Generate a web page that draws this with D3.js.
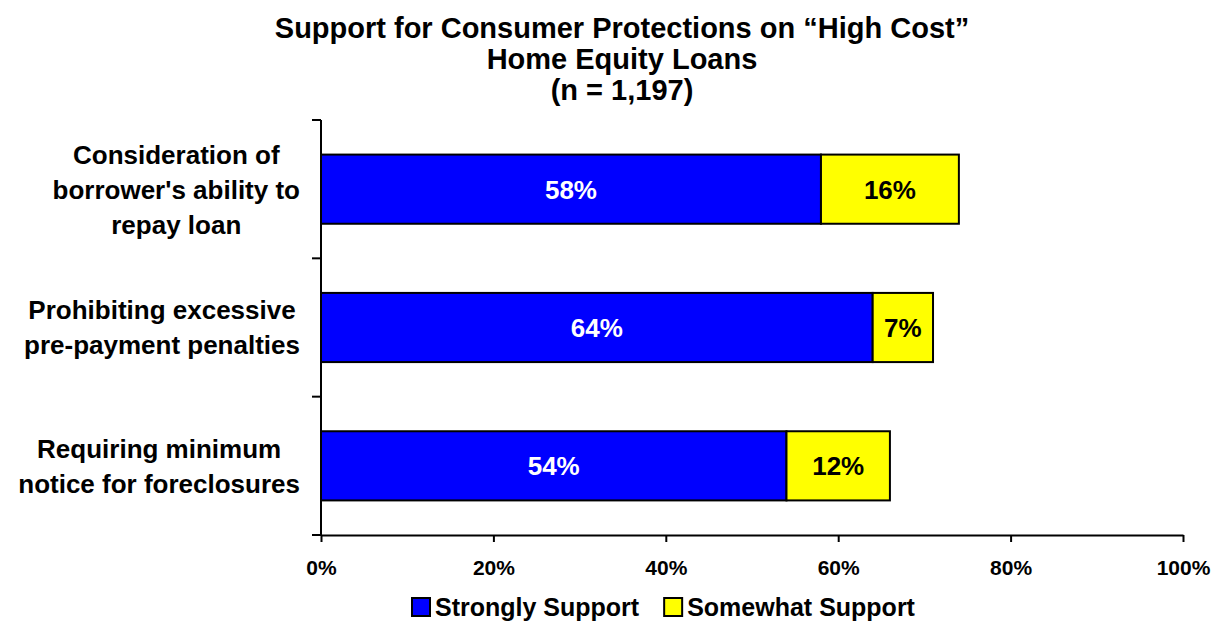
<!DOCTYPE html>
<html>
<head>
<meta charset="utf-8">
<script src="https://cdn.jsdelivr.net/npm/d3@7/dist/d3.min.js"></script>
<style>
  body { margin: 0; background: #fff; }
  text { font-family: "Liberation Sans", Arial, sans-serif; font-weight: bold; }
</style>
</head>
<body>
<div id="chart"></div>
<script>
// chart data
const categories = [
  ["Consideration of", "borrower's ability to", "repay loan"],
  ["Prohibiting excessive", "pre-payment penalties"],
  ["Requiring minimum", "notice for foreclosures"]
]
const strongly = [58, 64, 54]
const somewhat = [16, 7, 12]
const seriesNames = ["Strongly Support", "Somewhat Support"]
const seriesColors = ["#0000ff", "#ffff00"]
const labelColors = ["#ffffff", "#000000"]
const xTicks = [0, 20, 40, 60, 80, 100]
const titleLines = ["Support for Consumer Protections on \u201cHigh Cost\u201d", "Home Equity Loans", "(n = 1,197)"]

const W = 1212, H = 621
const m = {left: 321, right: 1183, top: 120, bottom: 535}

const svg = d3.select('#chart').append('svg')
  .attr('width', W).attr('height', H)

// title
svg.append('g').selectAll('text')
  .data(titleLines)
  .enter().append('text')
  .attr('x', 622)
  .attr('y', (d, i) => 38 + i * 31)
  .attr('text-anchor', 'middle')
  .style('font-size', '29px')
  .text(d => d)

const x = d3.scaleLinear().domain([0, 100]).range([m.left, m.right])
const y = d3.scaleBand().domain(d3.range(categories.length)).range([m.top, m.bottom]).paddingInner(0.5).paddingOuter(0.25)

// stacked data
const rows = categories.map((c, i) => {
  const vals = [strongly[i], somewhat[i]]
  let acc = 0
  return vals.map((v, k) => {
    const seg = {i, k, x0: acc, x1: acc + v, v}
    acc += v
    return seg
  })
})

const segs = rows.flat()
svg.append('g').selectAll('rect')
  .data(segs)
  .enter().append('rect')
  .attr('x', d => x(d.x0))
  .attr('width', d => x(d.x1) - x(d.x0))
  .attr('y', d => y(d.i))
  .attr('height', y.bandwidth())
  .attr('fill', d => seriesColors[d.k])
  .attr('stroke', '#000')
  .attr('stroke-width', 2)

svg.append('g').selectAll('text')
  .data(segs)
  .enter().append('text')
  .attr('x', d => (x(d.x0) + x(d.x1)) / 2)
  .attr('y', d => y(d.i) + y.bandwidth() / 2)
  .attr('dy', '0.36em')
  .attr('text-anchor', 'middle')
  .attr('fill', d => labelColors[d.k])
  .style('font-size', '26px')
  .text(d => d.v + '%')

// y axis (ticks between categories)
const yAxisG = svg.append('g')
yAxisG.append('line')
  .attr('x1', m.left).attr('x2', m.left)
  .attr('y1', m.top).attr('y2', m.bottom)
  .attr('stroke', '#000').attr('stroke-width', 2)
const step = (m.bottom - m.top) / categories.length
yAxisG.selectAll('.ytick')
  .data(d3.range(categories.length + 1))
  .enter().append('line')
  .attr('class', 'ytick')
  .attr('x1', m.left - 9).attr('x2', m.left)
  .attr('y1', d => m.top + d * step).attr('y2', d => m.top + d * step)
  .attr('stroke', '#000').attr('stroke-width', 2)

// x axis
const xAxis = d3.axisBottom(x)
  .tickValues(xTicks)
  .tickSize(7)
  .tickSizeOuter(0)
  .tickPadding(18)
  .tickFormat(d => d + '%')
const xg = svg.append('g')
  .attr('transform', `translate(0,${m.bottom})`)
  .call(xAxis)
xg.select('.domain').attr('stroke', '#000').attr('stroke-width', 2)
xg.selectAll('.tick line').attr('stroke', '#000').attr('stroke-width', 2)
xg.selectAll('.tick text')
  .attr('fill', '#000')
  .style('font-size', '21px')
  .style('font-family', '"Liberation Sans", Arial, sans-serif')
  .style('font-weight', 'bold')

// category labels: block right-aligned, lines centred in block
const labelRight = 300
categories.forEach((lines, i) => {
  const cy = y(i) + y.bandwidth() / 2
  const lh = 35
  const g = svg.append('g')
  const texts = g.selectAll('text')
    .data(lines)
    .enter().append('text')
    .attr('y', (d, j) => cy + (j - (lines.length - 1) / 2) * lh)
    .attr('dy', '0.36em')
    .attr('text-anchor', 'middle')
    .style('font-size', '26px')
    .text(d => d)
  let maxW = 0
  texts.each(function () { maxW = Math.max(maxW, this.getComputedTextLength()) })
  texts.attr('x', labelRight - maxW / 2)
})

// legend
const legend = svg.append('g')
let lx = 412
seriesNames.forEach((name, k) => {
  legend.append('rect')
    .attr('x', lx).attr('y', 598)
    .attr('width', 18).attr('height', 18)
    .attr('fill', seriesColors[k])
    .attr('stroke', '#000').attr('stroke-width', 2)
  const t = legend.append('text')
    .attr('x', lx + 23).attr('y', 607)
    .attr('dy', '0.36em')
    .style('font-size', '25px')
    .text(name)
  lx += 23 + t.node().getComputedTextLength() + 25
})
</script>
</body>
</html>
